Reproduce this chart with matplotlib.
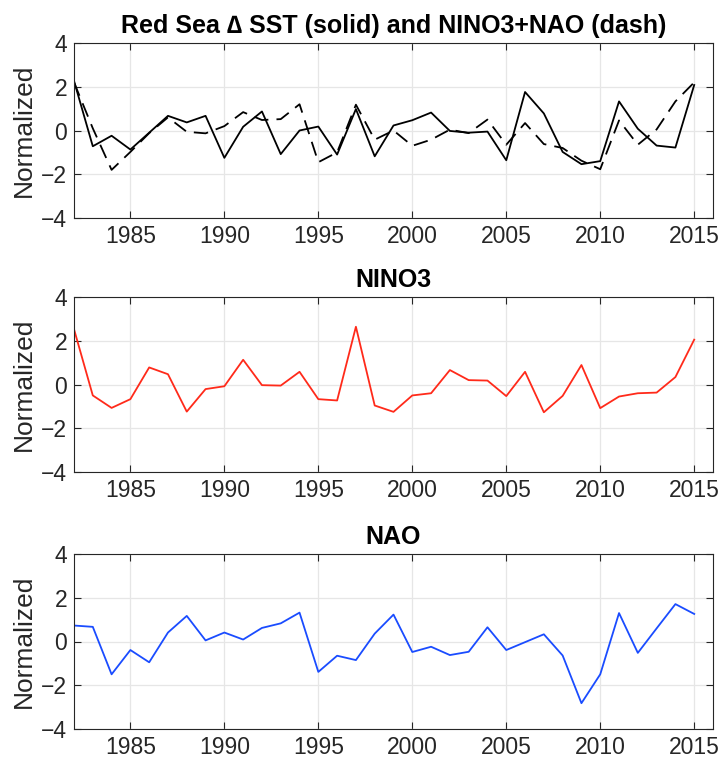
import matplotlib
matplotlib.use("Agg")
import matplotlib.pyplot as plt
import numpy as np

years = list(range(1982, 2016))

redsea_dsst = [2.27, -0.72, -0.24, -0.87, -0.10, 0.67, 0.37, 0.67, -1.25, 0.17,
               0.87, -1.08, 0.00, 0.18, -1.10, 0.98, -1.18, 0.23, 0.47, 0.82,
               -0.02, -0.10, -0.05, -1.36, 1.76, 0.78, -0.98, -1.54, -1.40, 1.33,
               0.08, -0.69, -0.78, 2.08]

nino3_nao = [2.20, 0.10, -1.80, -0.98, -0.12, 0.60, -0.06, -0.13, 0.20, 0.84,
             0.48, 0.52, 1.20, -1.45, -1.00, 1.18, -0.42, 0.00, -0.70, -0.42,
             0.04, -0.12, 0.50, -0.65, 0.34, -0.62, -0.80, -1.38, -1.77, 0.46,
             -0.65, 0.05, 1.33, 2.20]

nino3 = [2.53, -0.50, -1.07, -0.67, 0.78, 0.47, -1.24, -0.21, -0.08, 1.13,
         -0.03, -0.05, 0.58, -0.67, -0.73, 2.64, -0.96, -1.25, -0.50, -0.40,
         0.66, 0.20, 0.18, -0.53, 0.58, -1.27, -0.52, 0.89, -1.08, -0.55,
         -0.40, -0.37, 0.34, 2.05]

nao = [0.73, 0.67, -1.50, -0.39, -0.95, 0.41, 1.17, 0.05, 0.41, 0.09,
       0.62, 0.83, 1.32, -1.39, -0.65, -0.85, 0.36, 1.23, -0.48, -0.24,
       -0.62, -0.47, 0.65, -0.39, -0.03, 0.33, -0.64, -2.82, -1.50, 1.30,
       -0.52, 0.60, 1.71, 1.26]

xticks = [1985, 1990, 1995, 2000, 2005, 2010, 2015]
yticks = [-4, -2, 0, 2, 4]

titles = ["Red Sea \u2206 SST (solid) and NINO3+NAO (dash)", "NINO3", "NAO"]

plt.rcParams['font.family'] = ['Liberation Sans', 'DejaVu Sans']

fig = plt.figure(figsize=(7.2, 7.6), dpi=100)
left, width, height = 74 / 720, 639 / 720, 175 / 760
bottoms = [1 - 218 / 760, 1 - 472 / 760, 1 - 729 / 760]
axes = [fig.add_axes([left, b, width, height]) for b in bottoms]

axes[0].plot(years, redsea_dsst, color='black', lw=1.3, ls='-')
axes[0].plot(years, nino3_nao, color='black', lw=1.3, ls=(0, (8, 4.5)))
axes[1].plot(years, nino3, color='#ff2a1a', lw=1.3)
axes[2].plot(years, nao, color='#1a4cff', lw=1.3)

for ax, t in zip(axes, titles):
    ax.set_xlim(1982, 2016)
    ax.set_ylim(-4, 4)
    ax.set_xticks(xticks)
    ax.set_yticks(yticks)
    ax.grid(True, color='#e6e6e6', lw=0.9)
    ax.set_axisbelow(True)
    ax.tick_params(direction='in', top=True, right=True, length=5,
                   labelsize=16.5, colors='#262626', width=0.8, pad=5)
    for s in ax.spines.values():
        s.set_color('#262626')
        s.set_linewidth(0.8)
    ax.set_ylabel('Normalized', fontsize=19, color='#262626', labelpad=4)
    ax.set_title(t, fontsize=18, fontweight='bold', pad=7)

fig.savefig('out.png', dpi=100)
